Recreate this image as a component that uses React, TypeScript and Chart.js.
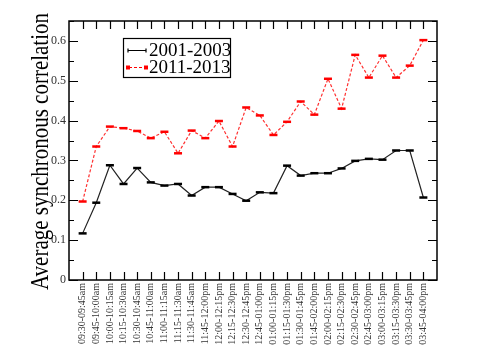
import React, { useEffect, useRef } from 'react';
import { Chart, registerables } from 'chart.js';
Chart.register(...registerables);

const categories = [
  '09:30-09:45am', '09:45-10:00am', '10:00-10:15am', '10:15-10:30am', '10:30-10:45am',
  '10:45-11:00am', '11:00-11:15am', '11:15-11:30am', '11:30-11:45am', '11:45-12:00pm',
  '12:00-12:15pm', '12:15-12:30pm', '12:30-12:45pm', '12:45-01:00pm', '01:00-01:15pm',
  '01:15-01:30pm', '01:30-01:45pm', '01:45-02:00pm', '02:00-02:15pm', '02:15-02:30pm',
  '02:30-02:45pm', '02:45-03:00pm', '03:00-03:15pm', '03:15-03:30pm', '03:30-03:45pm',
  '03:45-04:00pm',
];

const series2001 = [
  0.117, 0.194, 0.288, 0.241, 0.281, 0.245, 0.237, 0.241, 0.212, 0.233, 0.233, 0.216, 0.199,
  0.220, 0.218, 0.287, 0.262, 0.268, 0.268, 0.280, 0.299, 0.304, 0.302, 0.325, 0.325, 0.207,
];

const series2011 = [
  0.197, 0.335, 0.385, 0.381, 0.374, 0.356, 0.372, 0.318, 0.375, 0.356, 0.399, 0.335, 0.433,
  0.413, 0.364, 0.397, 0.448, 0.415, 0.505, 0.430, 0.565, 0.508, 0.563, 0.508, 0.538, 0.602,
];

const yTicks = [0, 0.1, 0.2, 0.3, 0.4, 0.5, 0.6];
const yMinorTicks = [0.05, 0.15, 0.25, 0.35, 0.45, 0.55, 0.65];
const legendLabels = ['2001-2003', '2011-2013'];
const yTitle = 'Average synchronous correlation';

const SERIF = "'Liberation Serif', 'DejaVu Serif', serif";

const framePlugin = {
  id: 'frameTicks',
  afterDraw(chart: any) {
    const { ctx, chartArea } = chart;
    const { left, right, top, bottom } = chartArea;
    const xs = chart.scales.x;
    const ys = chart.scales.y;
    ctx.save();
    ctx.strokeStyle = '#000';
    ctx.lineWidth = 1.5;
    ctx.strokeRect(left, top, right - left, bottom - top);
    ctx.lineWidth = 1.2;
    ctx.beginPath();
    categories.forEach((_, i) => {
      const px = Math.round(xs.getPixelForValue(i + 1)) + 0.5;
      ctx.moveTo(px, bottom);
      ctx.lineTo(px, bottom - 8);
      ctx.moveTo(px, top);
      ctx.lineTo(px, top + 8);
    });
    yTicks.forEach((v) => {
      const py = Math.round(ys.getPixelForValue(v)) + 0.5;
      ctx.moveTo(left, py);
      ctx.lineTo(left + 9, py);
      ctx.moveTo(right, py);
      ctx.lineTo(right - 9, py);
    });
    yMinorTicks.forEach((v) => {
      const py = Math.round(ys.getPixelForValue(v)) + 0.5;
      ctx.moveTo(left, py);
      ctx.lineTo(left + 5, py);
      ctx.moveTo(right, py);
      ctx.lineTo(right - 5, py);
    });
    ctx.stroke();

    // y title
    ctx.save();
    ctx.font = `25px ${SERIF}`;
    const w = ctx.measureText(yTitle).width;
    const sx = 277 / w;
    ctx.translate(48, (top + bottom) / 2 + 1);
    ctx.rotate(-Math.PI / 2);
    ctx.scale(sx, 1);
    ctx.fillStyle = '#000';
    ctx.textAlign = 'center';
    ctx.textBaseline = 'alphabetic';
    ctx.fillText(yTitle, 0, 0);
    ctx.restore();

    // legend
    const bx = 123, by = 38, bw = 107, bh = 39;
    ctx.fillStyle = '#fff';
    ctx.fillRect(bx, by, bw, bh);
    ctx.lineWidth = 1.2;
    ctx.strokeStyle = '#000';
    ctx.strokeRect(bx + 0.5, by + 0.5, bw, bh);
    ctx.font = `19px ${SERIF}`;
    ctx.textBaseline = 'middle';
    ctx.textAlign = 'left';
    ctx.fillStyle = '#000';
    ctx.strokeStyle = '#000';
    ctx.lineWidth = 1.2;
    ctx.beginPath();
    ctx.moveTo(128, 50.5);
    ctx.lineTo(146, 50.5);
    ctx.moveTo(128, 48.5);
    ctx.lineTo(128, 52.5);
    ctx.moveTo(146, 48.5);
    ctx.lineTo(146, 52.5);
    ctx.stroke();
    ctx.fillText(legendLabels[0], 149, 51);
    ctx.strokeStyle = '#ff0000';
    ctx.setLineDash([3, 2]);
    ctx.beginPath();
    ctx.moveTo(129, 67.5);
    ctx.lineTo(145, 67.5);
    ctx.stroke();
    ctx.setLineDash([]);
    ctx.fillStyle = '#ff0000';
    ctx.fillRect(126, 65.5, 4, 4);
    ctx.fillRect(144, 65.5, 4, 4);
    ctx.fillStyle = '#000';
    ctx.fillText(legendLabels[1], 149, 68);
    ctx.restore();
  },
};

export default function App() {
  const ref = useRef<HTMLCanvasElement>(null);
  useEffect(() => {
    if (!ref.current) return;
    const chart = new Chart(ref.current, {
      type: 'line',
      data: {
        datasets: [
          {
            label: legendLabels[0],
            data: series2001.map((v, i) => ({ x: i + 1, y: v })),
            borderColor: '#222',
            backgroundColor: '#000',
            borderWidth: 1.2,
            pointStyle: 'line',
            pointRadius: 4,
            pointBorderWidth: 2.5,
            pointBorderColor: '#000',
            tension: 0,
          },
          {
            label: legendLabels[1],
            data: series2011.map((v, i) => ({ x: i + 1, y: v })),
            borderColor: '#ff3030',
            backgroundColor: '#ff0000',
            borderWidth: 1.2,
            borderDash: [3, 2],
            pointStyle: 'line',
            pointRadius: 4,
            pointBorderWidth: 2.5,
            pointBorderColor: '#ff0000',
            tension: 0,
          },
        ],
      },
      options: {
        responsive: false,
        animation: false,
        devicePixelRatio: 1,
        layout: { padding: { left: 0, right: 43, top: 21, bottom: 0 } },
        plugins: { legend: { display: false }, tooltip: { enabled: false } },
        scales: {
          x: {
            type: 'linear',
            min: 0,
            max: categories.length + 1,
            grid: { display: false, drawTicks: false },
            border: { display: false },
            afterBuildTicks: (scale: any) => {
              scale.ticks = categories.map((_, i) => ({ value: i + 1 }));
            },
            afterFit: (scale: any) => {
              scale.height = 80;
            },
            ticks: {
              autoSkip: false,
              minRotation: 90,
              maxRotation: 90,
              padding: 3,
              color: '#333',
              font: { family: SERIF, size: 10 },
              callback: (v: any) => categories[Math.round(v) - 1] ?? '',
            },
          },
          y: {
            type: 'linear',
            min: 0,
            max: 0.65,
            grid: { display: false, drawTicks: false },
            border: { display: false },
            afterBuildTicks: (scale: any) => {
              scale.ticks = yTicks.map((v) => ({ value: v }));
            },
            afterFit: (scale: any) => {
              scale.width = 69;
            },
            ticks: {
              padding: 3,
              color: '#333',
              font: { family: SERIF, size: 12 },
              callback: (v: any) => (v === 0 ? '0' : Number(v).toFixed(1)),
            },
          },
        },
      },
      plugins: [framePlugin],
    });
    return () => chart.destroy();
  }, []);
  return (
    <div style={{ position: 'fixed', left: 0, top: 0, width: 480, height: 360, background: '#fff' }}>
      <canvas ref={ref} width={480} height={360} style={{ display: 'block' }} />
    </div>
  );
}
